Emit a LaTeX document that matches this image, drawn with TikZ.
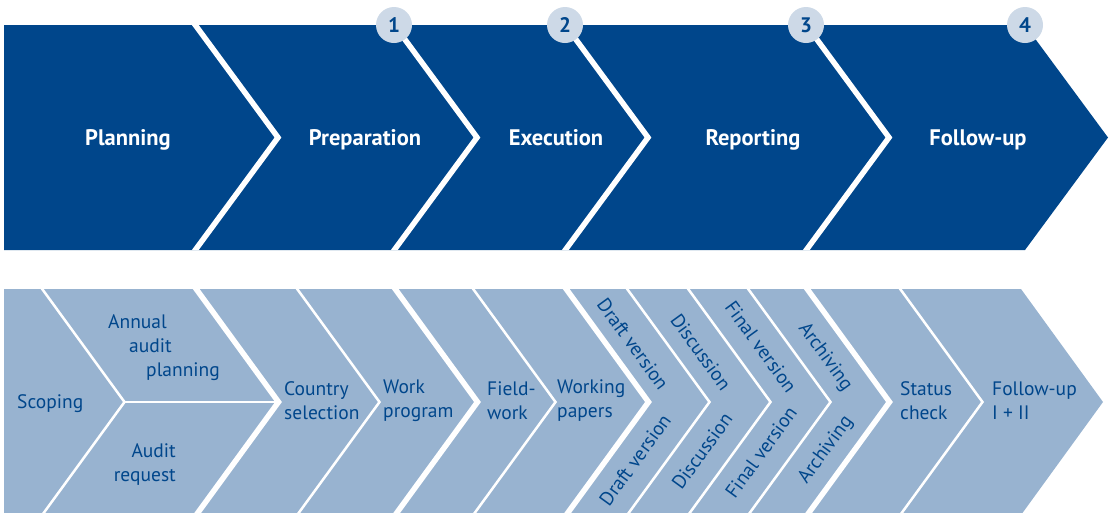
\documentclass[tikz,border=0pt]{standalone}
\usepackage{fontspec}
\setmainfont{PT Sans}
\usepackage{tikz}
\usetikzlibrary{positioning}
\definecolor{phaseblue}{RGB}{0,70,139}
\definecolor{stepblue}{RGB}{152,179,208}
\definecolor{dotblue}{RGB}{205,217,231}
\tikzset{
  phaselabel/.style={anchor=base, text=white, font=\bfseries\fontsize{22.5}{26}\selectfont, inner sep=0},
  steplabel/.style={text=phaseblue, font=\fontsize{19.5}{24}\selectfont, inner sep=0},
  numdot/.style={circle, fill=dotblue, text=phaseblue, minimum size=36pt, inner sep=0, font=\bfseries\fontsize{21}{21}\selectfont},
  bigcut/.style={white, line width=5.5pt},
  smallcut/.style={white, line width=2.5pt}
}
\begin{document}
\begin{tikzpicture}[x=1pt,y=-1pt]
\useasboundingbox (0,0) rectangle (1114,512);

% phases
\begin{scope}
\clip (4,25) -- (1025,25) -- (1108,137.5) -- (1025,250) -- (4,250) -- cycle;
\fill[phaseblue] (0,0) rectangle (1114,260);
\foreach \b in {195,394,565,806}
{
\draw[bigcut] (\b-10,11) -- (\b+83,137.5) -- (\b-10,264);
}
\end{scope}

\node[numdot] (n1) at (394,25) {1};
\node[numdot] (n2) at (565,25) {2};
\node[numdot] (n3) at (806,25) {3};
\node[numdot] (n4) at (1025,25) {4};

\node[phaselabel] (planning) at (128,145) {Planning};
\node[phaselabel] (preparation) at (365,145) {Preparation};
\node[phaselabel] (execution) at (556,145) {Execution};
\node[phaselabel] (reporting) at (753,145) {Reporting};
\node[phaselabel] (followup) at (978,145) {Follow-up};

% steps
\begin{scope}
\clip (4,289) -- (1021,289) -- (1103,402) -- (1021,515) -- (4,515) -- cycle;
\fill[stepblue] (0,280) rectangle (1114,520);
\foreach \b in {196,395,566,807}
{
\draw[bigcut] (\b-10,275) -- (\b+82.5,402) -- (\b-10,529);
}
\foreach \b in {42,297,473,627,688,748,900}
{
\draw[smallcut] (\b-10,275) -- (\b+82.5,402) -- (\b-10,529);
}
\draw[smallcut] (124.5,402) -- (278.5,402);
\end{scope}

\node[steplabel, anchor=base west] (scoping) at (17,408) {Scoping};
\node[steplabel, anchor=base west] (annual) at (108,328) {Annual};
\node[steplabel, anchor=base west] (audit) at (129,352) {audit};
\node[steplabel, anchor=base west] (yearplan) at (146,376) {planning};
\node[steplabel, anchor=base east] (auditreq) at (176,457) {Audit};
\node[steplabel, anchor=base east] (request) at (176,481) {request};

\node[steplabel, anchor=west, align=left] (country) at (284,401) {Country\\selection};
\node[steplabel, anchor=west, align=left] (workprog) at (383,401) {Work\\program};
\node[steplabel, anchor=west, align=left] (fieldwork) at (487,401) {Field-\\work};
\node[steplabel, anchor=west, align=left] (papers) at (557,401) {Working\\papers};

\node[steplabel, rotate=-54] (draftup) at (633,344) {Draft version};
\node[steplabel, rotate=54] (draftlow) at (635,460) {Draft version};
\node[steplabel, rotate=-54] (discup) at (701,352) {Discussion};
\node[steplabel, rotate=54] (disclow) at (702,451) {Discussion};
\node[steplabel, rotate=-54] (finalup) at (761,347) {Final version};
\node[steplabel, rotate=54] (finallow) at (761,452) {Final version};
\node[steplabel, rotate=-54] (archup) at (825,357) {Archiving};
\node[steplabel, rotate=54] (archlow) at (826,450) {Archiving};

\node[steplabel, anchor=west, align=left] (status) at (900,401) {Status\\check};
\node[steplabel, anchor=west, align=left] (followsteps) at (992,401) {Follow-up\\I + II};
\end{tikzpicture}
\end{document}
